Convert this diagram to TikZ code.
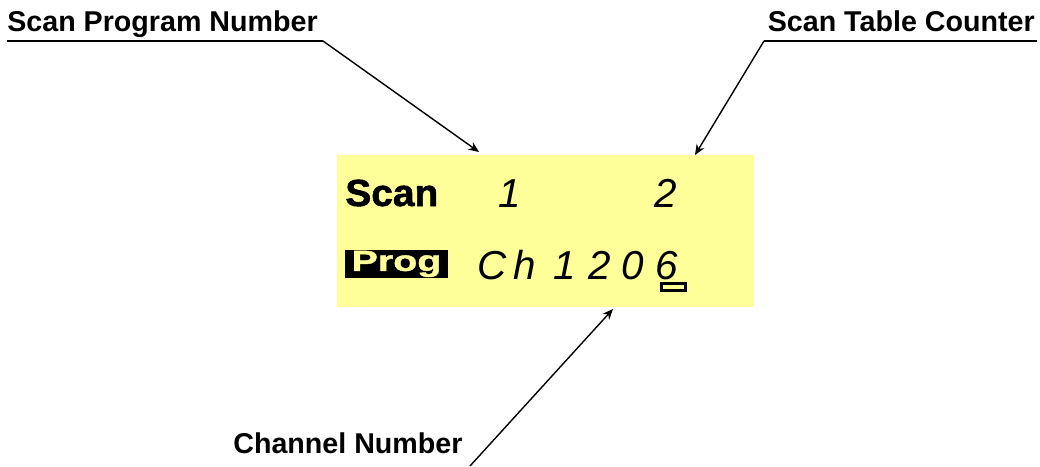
\documentclass[tikz,border=0pt]{standalone}
\usepackage{fontspec}
\setmainfont{Liberation Sans}
\usepackage{tikz}
\usetikzlibrary{positioning,arrows.meta}
\definecolor{lcdyellow}{RGB}{255, 255, 153}

\begin{document}
\begin{tikzpicture}[x=0.02cm, y=-0.02cm,
  lbl/.style={font=\fontsize{16.3}{18}\selectfont\bfseries, inner sep=0pt},
  seg/.style={font=\fontsize{23}{26}\selectfont\itshape, inner sep=0pt, anchor=base},
  ptr/.style={line width=0.8pt, -{Stealth[length=6pt, width=5pt]}},
  uline/.style={line width=1.1pt}]
\useasboundingbox (0,0) rectangle (1040,466);
% Display
\node[fill=lcdyellow, minimum width=8.34cm, minimum height=3.04cm, inner sep=0pt] (disp) at (545.5,231) {};
\node[font=\fontsize{21.5}{24}\selectfont\bfseries\addfontfeature{FakeStretch=1.03,FakeBold=1.5}, inner sep=0pt, anchor=base west] (scan) at (345,206) {Scan};
\node[fill=black, text=lcdyellow, font=\fontsize{16.5}{19}\selectfont\bfseries\addfontfeature{FakeStretch=1.36,FakeBold=1.5}, inner sep=0pt, minimum width=2.06cm, minimum height=0.56cm] (prog) at (396.5,264) {\raisebox{1.6pt}{Prog}};
% Ziffern
\node[seg] (s1) at (510,207) {1};
\node[seg] (s2) at (666,207) {2};
\node[seg] (c1) at (492,279) {C};
\node[seg] (c2) at (525,279) {h};
\node[seg] (c3) at (565,279) {1};
\node[seg] (c4) at (600,279) {2};
\node[seg] (c5) at (633,279) {0};
\node[seg] (c6) at (667,279) {6};
\node[draw, line width=1.7pt, inner sep=0pt, minimum width=0.48cm, minimum height=0.14cm] (cur) at (673.5,287) {};
% Beschriftungen
\node[lbl, anchor=base west] (spn) at (7,32) {Scan Program Number};
\node[lbl, anchor=base east] (stc) at (1035,32) {Scan Table Counter};
\node[lbl, anchor=base west] (chn) at (233,453) {Channel Number};
\coordinate (spnl) at (7,41);
\coordinate (spnr) at (323,41);
\coordinate (stcl) at (764,41);
\coordinate (stcr) at (1037,41);
\coordinate (chnl) at (470,466);
\coordinate (tip1) at (479,152);
\coordinate (tip2) at (695,155);
\coordinate (tip3) at (613,309);
% Pfeile
\draw[uline] (spnl) -- (spnr);
\draw[uline] (stcl) -- (stcr);
\draw[ptr] (spnr) -- (tip1);
\draw[ptr] (stcl) -- (tip2);
\draw[ptr] (chnl) -- (tip3);
\end{tikzpicture}
\end{document}
